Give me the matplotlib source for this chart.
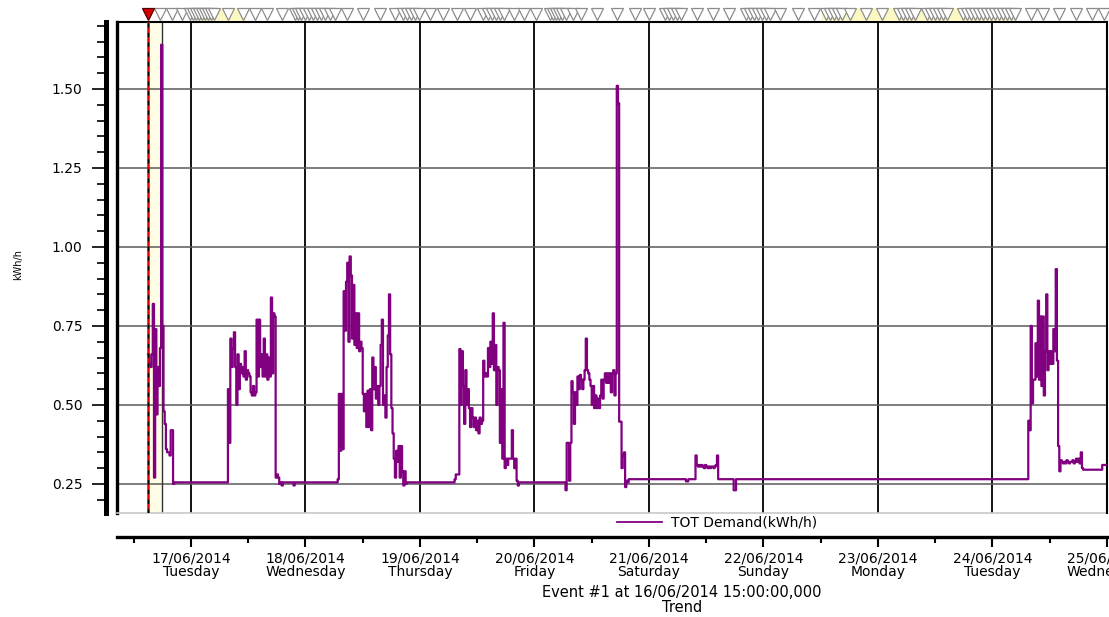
from matplotlib import pyplot as plt
import matplotlib.dates as mdates
import matplotlib.ticker as mticker
from matplotlib.lines import Line2D
import numpy as np
import pandas as pd

# quarter-hour demand readings for the busy stretches: first reading, then values (kWh/h)
mon16_start = "2014-06-16 15:00"
mon16_vals = [0.66, 0.63, 0.62, 0.66, 0.82, 0.27, 0.74, 0.47, 0.62, 0.56, 0.68, 1.64,
              0.75, 0.48, 0.44, 0.36, 0.35, 0.35, 0.34, 0.42, 0.42, 0.25]

tue17_start = "2014-06-17 07:45"
tue17_vals = [0.55, 0.38, 0.71, 0.62, 0.68, 0.73, 0.62, 0.50, 0.66, 0.55, 0.63, 0.60,
              0.62, 0.59, 0.67, 0.58, 0.61, 0.60, 0.59, 0.54, 0.53, 0.56, 0.53, 0.54,
              0.77, 0.59, 0.77, 0.62, 0.66, 0.59, 0.71, 0.59, 0.66, 0.58, 0.65, 0.59,
              0.84, 0.60, 0.79, 0.78, 0.27, 0.28, 0.27, 0.25]

wed18_start = "2014-06-18 06:45"
wed18_vals = [0.265, 0.535, 0.355, 0.535, 0.36, 0.86, 0.735, 0.89, 0.95, 0.70, 0.97, 0.91,
              0.71, 0.88, 0.69, 0.79, 0.68, 0.79, 0.67, 0.70, 0.68, 0.535, 0.48, 0.535,
              0.43, 0.545, 0.43, 0.55, 0.42, 0.65, 0.55, 0.62, 0.52, 0.56, 0.50, 0.56,
              0.69, 0.77, 0.50, 0.53, 0.46, 0.62, 0.72, 0.85, 0.66, 0.49, 0.41, 0.33,
              0.27, 0.355, 0.32, 0.37, 0.27, 0.37, 0.29, 0.245, 0.29, 0.25]

thu19_start = "2014-06-19 07:15"
thu19_vals = [0.265, 0.28, 0.28, 0.28, 0.677, 0.50, 0.67, 0.56, 0.44, 0.61, 0.50, 0.55,
              0.49, 0.43, 0.49, 0.46, 0.43, 0.46, 0.42, 0.45, 0.41, 0.46, 0.44, 0.45,
              0.64, 0.59, 0.60, 0.59, 0.68, 0.62, 0.70, 0.63, 0.79, 0.61, 0.69, 0.50,
              0.62, 0.61, 0.38, 0.55, 0.33, 0.76, 0.30, 0.33, 0.31, 0.33, 0.33, 0.33,
              0.42, 0.33, 0.30, 0.33, 0.26, 0.245]

fri20_start = "2014-06-20 06:30"
fri20_vals = [0.23, 0.38, 0.38, 0.26, 0.38, 0.575, 0.54, 0.44, 0.54, 0.50, 0.59, 0.55,
              0.595, 0.58, 0.55, 0.58, 0.61, 0.71, 0.61, 0.60, 0.58, 0.56, 0.50, 0.56,
              0.49, 0.53, 0.49, 0.52, 0.49, 0.53, 0.58, 0.52, 0.58, 0.60, 0.57, 0.60,
              0.57, 0.60, 0.54, 0.60, 0.61, 0.53, 0.60, 1.51, 1.455, 0.447, 0.447, 0.30,
              0.34, 0.35, 0.24, 0.26]

sat21_start = "2014-06-21 09:45"
sat21_vals = [0.34, 0.31, 0.305, 0.31, 0.305, 0.31, 0.305, 0.30, 0.31, 0.305, 0.30,
              0.305, 0.30, 0.305, 0.305, 0.30, 0.305, 0.31, 0.34]

tue24_start = "2014-06-24 07:15"
tue24_vals = [0.265, 0.45, 0.42, 0.75, 0.505, 0.58, 0.58, 0.695, 0.59, 0.83, 0.58, 0.78,
              0.56, 0.78, 0.53, 0.67, 0.85, 0.61, 0.67, 0.63, 0.67, 0.63, 0.74, 0.67,
              0.93, 0.64, 0.37, 0.29, 0.325, 0.32, 0.315, 0.32, 0.315, 0.325, 0.32, 0.315,
              0.32, 0.32, 0.325, 0.315, 0.32, 0.33, 0.32, 0.33, 0.315, 0.35, 0.30]

# flat base load between the busy stretches
base_start = ["2014-06-16 15:00", "2014-06-20 19:45", "2014-06-24 19:00", "2014-06-24 23:00"]
base_end = ["2014-06-20 19:30", "2014-06-24 18:45", "2014-06-24 22:45", "2014-06-25 00:00"]
base_level = [0.255, 0.265, 0.295, 0.31]

# single readings that dip off the base load
dip_times = ["2014-06-17 19:00", "2014-06-17 21:30", "2014-06-21 07:45",
             "2014-06-21 08:00", "2014-06-21 17:45", "2014-06-21 18:00"]
dip_vals = [0.245, 0.245, 0.258, 0.258, 0.23, 0.23]

# event marker strip along the top, hours after 16/06/2014 00:00
event_hours = [17.5, 20.0, 22.1, 23.8, 24.4, 25.0, 25.7, 26.3, 26.9, 27.6, 28.2, 28.8,
               31.8, 34.9, 37.4, 39.9, 43.1, 45.8, 46.4, 47.1, 47.9, 48.7, 49.6, 50.4,
               51.2, 52.1, 53.1, 54.2, 56.7, 60.1, 63.6, 66.8, 68.4, 69.3, 70.1, 71.0,
               71.8, 74.1, 76.8, 79.8, 82.5, 85.2, 86.3, 87.1, 87.9, 88.8, 89.6, 91.7,
               93.8, 96.3, 99.2, 99.9, 100.5, 101.1, 101.8, 102.6, 104.1, 105.7, 109.1,
               113.3, 117.1, 120.0, 123.4, 124.2, 125.1, 125.9, 126.7, 130.1, 133.5,
               136.8, 140.4, 141.2, 142.1, 142.9, 143.7, 144.5, 145.4, 147.5, 151.2,
               154.6, 157.1, 157.9, 158.8, 159.6, 160.4, 162.1, 165.5, 168.8, 172.4,
               173.2, 174.1, 174.9, 175.8, 178.3, 179.1, 179.9, 180.8, 181.6, 182.5,
               185.8, 186.6, 187.5, 188.3, 189.2, 190.0, 190.8, 191.7, 192.5, 193.4,
               194.2, 195.0, 195.9, 196.7, 200.1, 202.6, 205.9, 209.5, 212.8, 215.4]
glow_start = [24.8, 156.3]
glow_end = [35.3, 196.7]

event_time = "2014-06-16 15:00"
marker_end = "2014-06-16 18:00"


def build_series():
    idx = pd.date_range("2014-06-16 15:00", "2014-06-25 00:00", freq="15min")
    s = pd.Series(np.nan, index=idx)
    for a, b, lev in zip(base_start, base_end, base_level):
        s.loc[a:b] = lev
    blocks = [(mon16_start, mon16_vals), (tue17_start, tue17_vals),
              (wed18_start, wed18_vals), (thu19_start, thu19_vals),
              (fri20_start, fri20_vals), (sat21_start, sat21_vals),
              (tue24_start, tue24_vals)]
    for start, vals in blocks:
        t = pd.date_range(start, periods=len(vals), freq="15min")
        s.loc[t] = vals
    for t, v in zip(dip_times, dip_vals):
        s.loc[pd.Timestamp(t)] = v
    return s


def main():
    demand = build_series()
    day0 = pd.Timestamp("2014-06-16")

    W, H = 1109, 617
    fig = plt.figure(figsize=(W / 100, H / 100), dpi=100)
    ax = fig.add_axes([117 / W, 1 - 513 / H, 990 / W, 491 / H])

    ax.axvspan(pd.Timestamp(event_time), pd.Timestamp(marker_end), color='#fffde6', zorder=0)
    ax.axvline(pd.Timestamp(marker_end), color='#333333', lw=1.0, zorder=1)

    ax.plot(demand.index, demand.values, drawstyle='steps-post', color='#800080', lw=1.6, zorder=3)

    ax.axvline(pd.Timestamp(event_time), color='#e00000', lw=1.8, zorder=4)
    ax.axvline(pd.Timestamp(event_time), color='black', lw=1.0, dashes=(3, 4), zorder=5)

    ax.set_xlim(pd.Timestamp("2014-06-16 08:30"), pd.Timestamp("2014-06-25 00:00"))
    ax.set_ylim(0.158, 1.712)

    ax.xaxis.set_major_locator(mdates.DayLocator())
    ax.xaxis.set_minor_locator(mdates.HourLocator(byhour=[12]))
    ax.xaxis.set_major_formatter(mticker.FuncFormatter(
        lambda x, pos: mdates.num2date(x).strftime("%d/%m/%Y\n%A")))
    ax.yaxis.set_major_locator(mticker.MultipleLocator(0.25))
    ax.yaxis.set_minor_locator(mticker.MultipleLocator(0.05))
    ax.yaxis.set_major_formatter(mticker.FormatStrFormatter('%.2f'))

    ax.grid(which='major', axis='x', color='black', lw=1.3, zorder=1)
    ax.grid(which='major', axis='y', color='#5a5a5a', lw=1.1, zorder=1)
    ax.set_axisbelow(True)

    ax.spines['left'].set_position(('outward', 8))
    ax.spines['left'].set_linewidth(3.6)
    ax.spines['bottom'].set_position(('outward', 17))
    ax.spines['bottom'].set_linewidth(2.4)
    ax.spines['top'].set_linewidth(1.5)
    ax.spines['right'].set_linewidth(1.5)

    ax.tick_params(axis='y', which='major', length=10, width=1.2, labelsize=10, pad=7)
    ax.tick_params(axis='y', which='minor', length=6.5, width=1.2)
    ax.tick_params(axis='x', which='major', length=7.5, width=1.5, labelsize=10, pad=3)
    ax.tick_params(axis='x', which='minor', length=4.5, width=1.5)
    for lab in ax.get_xticklabels():
        lab.set_linespacing(1.0)

    # plot frame: thick black left edge, pale grey bottom edge
    ax.add_line(Line2D([0, 0], [0, 1], transform=ax.transAxes, color='black', lw=2.4, clip_on=False))
    ax.add_line(Line2D([0, 1], [0, 0], transform=ax.transAxes, color='#c8c8c8', lw=1.2, clip_on=False))

    handle = Line2D([], [], color='#800080', lw=1.3)
    fig.legend([handle], ['TOT Demand(kWh/h)'], loc='center', bbox_to_anchor=(717 / W, 1 - 523 / H),
               frameon=False, fontsize=10, handlelength=3.2, handletextpad=0.65)

    fig.text(18 / W, 1 - 265 / H, 'kWh/h', rotation=90, fontsize=7, ha='center', va='center')
    fig.text(682 / W, 1 - 615 / H, 'Event #1 at 16/06/2014 15:00:00,000\nTrend', fontsize=10.5,
             ha='center', va='bottom', multialignment='center', linespacing=1.0)

    # event strip above the plot
    sax = fig.add_axes([117 / W, 1 - 21 / H, 990 / W, 13 / H], sharex=ax)
    sax.set_ylim(0, 1)
    sax.axis('off')
    for a, b in zip(glow_start, glow_end):
        sax.axvspan(day0 + pd.to_timedelta(a, 'h'), day0 + pd.to_timedelta(b, 'h'),
                    color='#fcf8c4', zorder=0)
    ev = day0 + pd.to_timedelta(event_hours, 'h')
    sax.plot(ev, np.full(len(ev), 0.55), 'v', ms=8.5, mfc='white', mec='#8c8c8c', mew=0.9,
             clip_on=False, zorder=2)
    sax.plot([pd.Timestamp(event_time)], [0.55], 'v', ms=9, mfc='#d80000', mec='#500000',
             mew=0.9, clip_on=False, zorder=3)

    plt.savefig('out.png', dpi=100)


if __name__ == "__main__":
    main()
